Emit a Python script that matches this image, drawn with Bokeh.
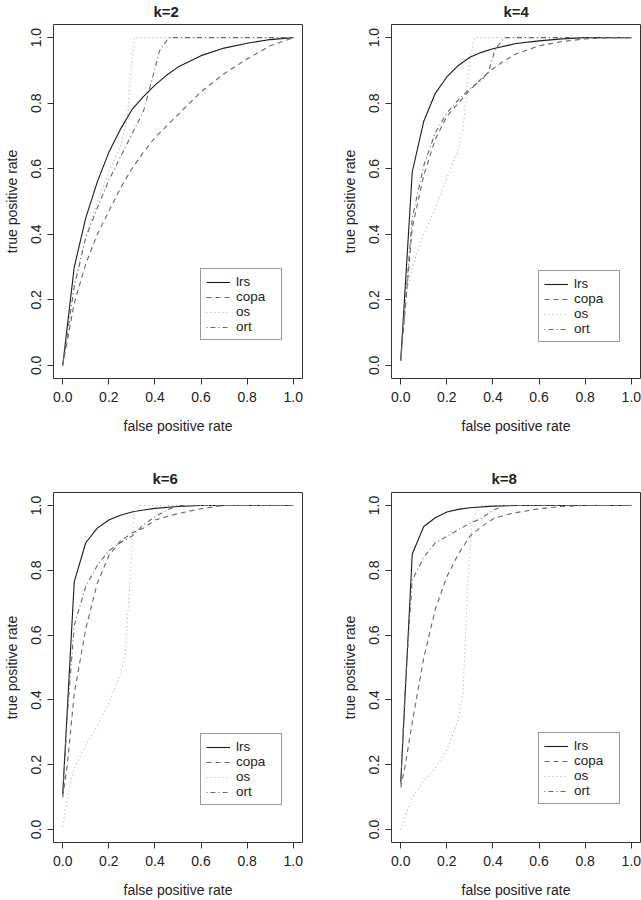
from bokeh.plotting import figure
from bokeh.layouts import gridplot
from bokeh.models import Range1d, FixedTicker, PrintfTickFormatter, Legend, LegendItem
from bokeh.embed import file_html
from bokeh.resources import INLINE

# ---------------- data ----------------
TITLES = ["k=2", "k=4", "k=6", "k=8"]
SERIES = ["lrs", "copa", "os", "ort"]
X_TICKS = [0.0, 0.2, 0.4, 0.6, 0.8, 1.0]
Y_TICKS = [0.0, 0.2, 0.4, 0.6, 0.8, 1.0]
X_LABEL = "false positive rate"
Y_LABEL = "true positive rate"

# k = 2
k2_lrs_fpr = [0, 0.05, 0.1, 0.15, 0.2, 0.25, 0.3, 0.35, 0.4, 0.45, 0.5, 0.6, 0.7, 0.8, 0.9, 1.0]
k2_lrs_tpr = [0, 0.30, 0.45, 0.56, 0.65, 0.72, 0.78, 0.82, 0.855, 0.885, 0.91, 0.945, 0.968, 0.983, 0.994, 1.0]
k2_copa_fpr = [0, 0.05, 0.1, 0.15, 0.2, 0.25, 0.3, 0.35, 0.4, 0.45, 0.5, 0.55, 0.6, 0.7, 0.8, 0.9, 1.0]
k2_copa_tpr = [0, 0.19, 0.31, 0.40, 0.47, 0.54, 0.60, 0.65, 0.695, 0.73, 0.765, 0.80, 0.835, 0.89, 0.935, 0.975, 1.0]
k2_os_fpr = [0, 0.05, 0.1, 0.15, 0.2, 0.25, 0.28, 0.29, 0.31, 1.0]
k2_os_tpr = [0, 0.25, 0.39, 0.50, 0.59, 0.67, 0.75, 0.85, 1.0, 1.0]
k2_ort_fpr = [0, 0.05, 0.1, 0.15, 0.2, 0.25, 0.3, 0.35, 0.4, 0.42, 0.46, 1.0]
k2_ort_tpr = [0, 0.24, 0.39, 0.48, 0.565, 0.635, 0.705, 0.775, 0.905, 0.96, 1.0, 1.0]

# k = 4
k4_lrs_fpr = [0, 0.05, 0.1, 0.15, 0.2, 0.25, 0.3, 0.35, 0.4, 0.5, 0.6, 0.7, 0.8, 1.0]
k4_lrs_tpr = [0.015, 0.59, 0.745, 0.83, 0.88, 0.915, 0.94, 0.955, 0.966, 0.982, 0.99, 0.996, 1.0, 1.0]
k4_copa_fpr = [0, 0.05, 0.1, 0.15, 0.2, 0.25, 0.3, 0.35, 0.4, 0.45, 0.5, 0.6, 0.7, 0.8, 0.9, 1.0]
k4_copa_tpr = [0.015, 0.42, 0.58, 0.69, 0.76, 0.80, 0.84, 0.875, 0.905, 0.93, 0.95, 0.975, 0.988, 0.996, 1.0, 1.0]
k4_os_fpr = [0, 0.02, 0.05, 0.1, 0.15, 0.2, 0.25, 0.27, 0.30, 0.32, 1.0]
k4_os_tpr = [0.015, 0.2, 0.30, 0.40, 0.48, 0.57, 0.66, 0.72, 0.93, 1.0, 1.0]
k4_ort_fpr = [0, 0.05, 0.1, 0.15, 0.2, 0.25, 0.3, 0.35, 0.38, 0.41, 0.45, 1.0]
k4_ort_tpr = [0.015, 0.45, 0.61, 0.71, 0.77, 0.81, 0.845, 0.87, 0.895, 0.965, 1.0, 1.0]

# k = 6
k6_lrs_fpr = [0, 0.05, 0.1, 0.15, 0.2, 0.25, 0.3, 0.35, 0.4, 0.5, 0.6, 1.0]
k6_lrs_tpr = [0.11, 0.765, 0.885, 0.93, 0.955, 0.97, 0.98, 0.986, 0.991, 0.997, 1.0, 1.0]
k6_copa_fpr = [0, 0.02, 0.05, 0.1, 0.15, 0.2, 0.25, 0.3, 0.35, 0.4, 0.45, 0.5, 0.6, 0.7, 1.0]
k6_copa_tpr = [0.10, 0.20, 0.42, 0.62, 0.76, 0.845, 0.89, 0.915, 0.93, 0.955, 0.965, 0.975, 0.99, 1.0, 1.0]
k6_os_fpr = [0, 0.02, 0.05, 0.1, 0.15, 0.2, 0.25, 0.27, 0.29, 0.31, 0.33, 1.0]
k6_os_tpr = [0.01, 0.10, 0.19, 0.26, 0.32, 0.39, 0.48, 0.53, 0.75, 0.97, 1.0, 1.0]
k6_ort_fpr = [0, 0.02, 0.05, 0.1, 0.15, 0.2, 0.25, 0.3, 0.35, 0.4, 0.45, 0.5, 1.0]
k6_ort_tpr = [0.10, 0.35, 0.63, 0.75, 0.815, 0.86, 0.885, 0.905, 0.94, 0.965, 0.985, 1.0, 1.0]

# k = 8
k8_lrs_fpr = [0, 0.05, 0.1, 0.15, 0.2, 0.25, 0.3, 0.4, 0.5, 1.0]
k8_lrs_tpr = [0.145, 0.85, 0.935, 0.962, 0.98, 0.988, 0.993, 0.998, 1.0, 1.0]
k8_copa_fpr = [0, 0.02, 0.05, 0.1, 0.15, 0.2, 0.25, 0.3, 0.35, 0.4, 0.45, 0.5, 0.6, 0.7, 0.8, 1.0]
k8_copa_tpr = [0.13, 0.20, 0.33, 0.53, 0.68, 0.78, 0.85, 0.905, 0.935, 0.958, 0.97, 0.978, 0.99, 0.997, 1.0, 1.0]
k8_os_fpr = [0, 0.05, 0.1, 0.15, 0.2, 0.25, 0.27, 0.29, 0.31, 0.34, 1.0]
k8_os_tpr = [0.0, 0.10, 0.15, 0.19, 0.245, 0.34, 0.42, 0.75, 0.95, 1.0, 1.0]
k8_ort_fpr = [0, 0.02, 0.05, 0.1, 0.15, 0.2, 0.25, 0.3, 0.35, 0.4, 0.45, 1.0]
k8_ort_tpr = [0.14, 0.45, 0.77, 0.84, 0.885, 0.905, 0.925, 0.945, 0.96, 0.985, 1.0, 1.0]

PANELS = [
    {"lrs": (k2_lrs_fpr, k2_lrs_tpr), "copa": (k2_copa_fpr, k2_copa_tpr),
     "os": (k2_os_fpr, k2_os_tpr), "ort": (k2_ort_fpr, k2_ort_tpr)},
    {"lrs": (k4_lrs_fpr, k4_lrs_tpr), "copa": (k4_copa_fpr, k4_copa_tpr),
     "os": (k4_os_fpr, k4_os_tpr), "ort": (k4_ort_fpr, k4_ort_tpr)},
    {"lrs": (k6_lrs_fpr, k6_lrs_tpr), "copa": (k6_copa_fpr, k6_copa_tpr),
     "os": (k6_os_fpr, k6_os_tpr), "ort": (k6_ort_fpr, k6_ort_tpr)},
    {"lrs": (k8_lrs_fpr, k8_lrs_tpr), "copa": (k8_copa_fpr, k8_copa_tpr),
     "os": (k8_os_fpr, k8_os_tpr), "ort": (k8_ort_fpr, k8_ort_tpr)},
]

# ---------------- styles ----------------
STYLE = {
    "lrs": dict(line_color="#1a1a1a", line_dash="solid", line_width=1.1),
    "copa": dict(line_color="#666666", line_dash="5 4", line_width=1.1),
    "os": dict(line_color="#a8a8a8", line_dash="1 3", line_width=1.1),
    "ort": dict(line_color="#666666", line_dash="1 3 5 3", line_width=1.1),
}
FONT = "Liberation Sans"
TXT = "#222222"

# geometry: (width, height, border_left, border_right, border_top, border_bottom)
GEOM = [
    (320, 450, 53, 18, 24, 72),
    (321, 450, 71, 1, 24, 72),
    (320, 450, 53, 18, 42, 55),
    (321, 450, 71, 1, 42, 55),
]
# title: (offset from frame left, vertical_align, standoff)
TITLE_SET = [(100, "top", 5), (112, "top", 5), (99, "bottom", 11), (100, "bottom", 11)]
LEGEND_POS = [(147, 38), (147, 36), (147, 37), (147, 38)]

figs = []
for i in range(4):
    w, h, bl, br, bt, bb = GEOM[i]
    p = figure(width=w, height=h, output_backend="svg", toolbar_location=None,
               x_range=Range1d(-0.04, 1.04), y_range=Range1d(-0.04, 1.04),
               min_border_left=bl, min_border_right=br,
               min_border_top=bt, min_border_bottom=bb,
               title=TITLES[i])
    off, valign, stand = TITLE_SET[i]
    p.title.align = "left"
    p.title.offset = off
    p.title.vertical_align = valign
    p.title.standoff = stand
    p.title.text_font = FONT
    p.title.text_font_size = "15px"
    p.title.text_font_style = "bold"
    p.title.text_color = TXT
    p.outline_line_color = "#333333"
    p.outline_line_width = 1
    p.xgrid.visible = False
    p.ygrid.visible = False
    p.background_fill_color = "white"
    p.border_fill_color = "white"

    for ax in (p.xaxis[0], p.yaxis[0]):
        ax.axis_line_color = None
        ax.major_tick_in = 0
        ax.major_tick_out = 6
        ax.major_tick_line_color = "#333333"
        ax.minor_tick_line_color = None
        ax.major_label_text_font = FONT
        ax.major_label_text_font_size = "14px"
        ax.major_label_text_color = TXT
        ax.axis_label_text_font = FONT
        ax.axis_label_text_font_size = "14px"
        ax.axis_label_text_font_style = "normal"
        ax.axis_label_text_color = TXT
        ax.formatter = PrintfTickFormatter(format="%.1f")
    p.xaxis[0].ticker = FixedTicker(ticks=X_TICKS)
    p.yaxis[0].ticker = FixedTicker(ticks=Y_TICKS)
    p.xaxis[0].axis_label = X_LABEL
    p.yaxis[0].axis_label = Y_LABEL
    p.xaxis[0].major_label_standoff = 7
    p.xaxis[0].axis_label_standoff = 13
    p.yaxis[0].major_label_standoff = 6
    p.yaxis[0].axis_label_standoff = 9
    p.yaxis[0].major_label_orientation = "vertical"

    items = []
    for s in SERIES:
        xs, ys = PANELS[i][s]
        r = p.line(xs, ys, **STYLE[s])
        items.append(LegendItem(label=s, renderers=[r]))
    leg = Legend(items=items, location=LEGEND_POS[i])
    leg.label_text_font = FONT
    leg.label_text_font_size = "13.5px"
    leg.label_text_color = TXT
    leg.label_height = 14
    leg.glyph_height = 14
    leg.glyph_width = 24
    leg.label_width = 40
    leg.label_standoff = 6
    leg.spacing = 0
    leg.padding = 5
    leg.margin = 0
    leg.border_line_color = "#333333"
    leg.border_line_width = 1
    leg.background_fill_color = "white"
    leg.background_fill_alpha = 1.0
    p.add_layout(leg)
    figs.append(p)

grid = gridplot([[figs[0], figs[1]], [figs[2], figs[3]]], toolbar_location=None)

open("out.html", "w").write(file_html(grid, INLINE))
